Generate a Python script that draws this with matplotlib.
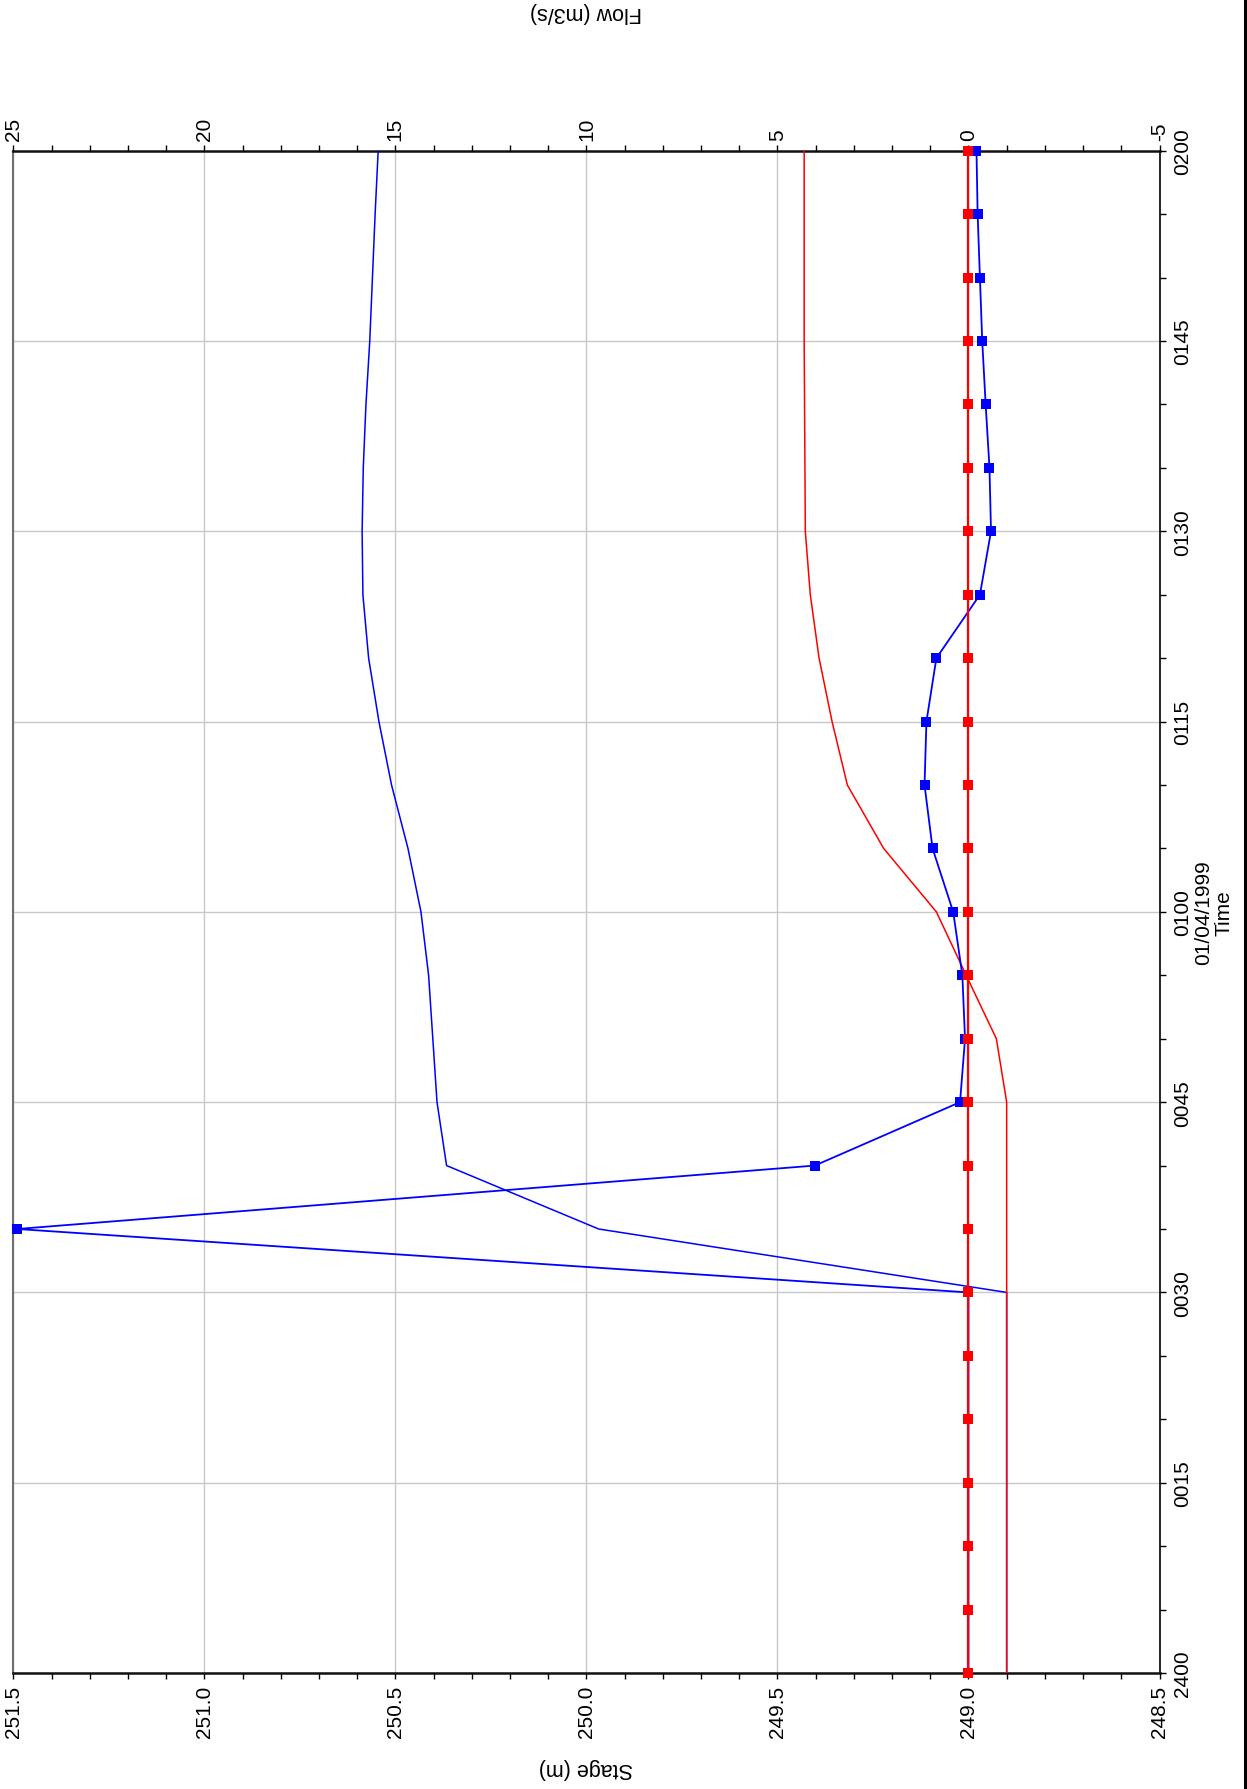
import matplotlib
matplotlib.use("Agg")
import matplotlib.pyplot as plt
from matplotlib.lines import Line2D
from matplotlib.ticker import MultipleLocator, FixedLocator, FixedFormatter

plt.rcParams['font.family'] = ['Liberation Sans', 'DejaVu Sans']
plt.rcParams['axes.unicode_minus'] = False

# ---------------- data ----------------
# time in minutes after 2400 on 01/04/1999, every 5 minutes
times = [0, 5, 10, 15, 20, 25, 30, 35, 40, 45, 50, 55, 60,
         65, 70, 75, 80, 85, 90, 95, 100, 105, 110, 115, 120]

time_tick_pos = [0, 15, 30, 45, 60, 75, 90, 105, 120]
time_tick_labels = ["2400", "0015", "0030", "0045", "0100", "0115", "0130", "0145", "0200"]

# Flow (m3/s) series (with markers)
flow_red = [0.0] * 25
flow_blue = [0.0, 0.0, 0.0, 0.0, 0.0, 0.0, 0.0, 24.9, 4.02, 0.22, 0.09, 0.16, 0.40,
             0.94, 1.15, 1.10, 0.84, -0.30, -0.59, -0.55, -0.45, -0.36, -0.30, -0.24, -0.21]

# Stage (m) series (plain lines)
stage_red = [248.90, 248.90, 248.90, 248.90, 248.90, 248.90, 248.90, 248.90, 248.90, 248.90,
             248.927, 249.006, 249.084, 249.222, 249.317, 249.357, 249.391, 249.414, 249.427,
             249.428, 249.429, 249.430, 249.430, 249.430, 249.430]
stage_blue = [248.90, 248.90, 248.90, 248.90, 248.90, 248.90, 248.90, 249.968, 250.366, 250.391,
              250.402, 250.413, 250.433, 250.467, 250.510, 250.543, 250.570, 250.585, 250.587,
              250.584, 250.577, 250.567, 250.560, 250.553, 250.545]

stage_lim = (251.5, 248.5)
flow_lim = (25, -5)

# ---------------- figure ----------------
W, H = 1247, 1790
fig = plt.figure(figsize=(W / 100, H / 100), dpi=100)
L, R, T, B = 13.3, 1159.5, 151.7, 1674.0
ax = fig.add_axes([L / W, 1 - B / H, (R - L) / W, (B - T) / H])

ax.set_xlim(*stage_lim)
ax.set_ylim(0, 120)

# stage axis at bottom
ax.xaxis.set_major_locator(MultipleLocator(0.5))
ax.xaxis.set_minor_locator(MultipleLocator(0.1))
ax.xaxis.set_major_formatter(matplotlib.ticker.FormatStrFormatter('%.1f'))
ax.tick_params(axis='x', which='both', direction='out', length=4.5, width=1,
               labelsize=15, labelrotation=90, pad=4, bottom=True, top=False)

# time axis on right
ax.yaxis.tick_right()
ax.yaxis.set_major_locator(FixedLocator(time_tick_pos))
ax.yaxis.set_major_formatter(FixedFormatter(time_tick_labels))
ax.yaxis.set_minor_locator(MultipleLocator(5))
ax.tick_params(axis='y', which='both', direction='out', length=4, width=1,
               labelsize=15, pad=6, left=False, right=True, labelleft=False, labelright=True)
for lab in ax.get_yticklabels():
    lab.set_rotation(90)
    lab.set_va('center')
    lab.set_ha('left')

ax.grid(True, which='major', color='#c8c8c8', linewidth=1)
ax.set_axisbelow(True)

for s in ['top', 'bottom']:
    ax.spines[s].set_linewidth(1.8)
    ax.spines[s].set_color('#111111')
ax.spines['right'].set_linewidth(1.2)
ax.spines['right'].set_color('black')
ax.spines['left'].set_linewidth(1.5)
ax.spines['left'].set_color('#707070')

# stage lines
ax.plot(stage_blue, times, color='#0000ff', linewidth=1.1, zorder=3)
ax.plot(stage_red, times, color='#ff0000', linewidth=1.1, zorder=4)

# flow axis on top
ax2 = ax.twiny()
ax2.set_xlim(*flow_lim)
ax2.set_ylim(0, 120)
ax2.xaxis.set_major_locator(MultipleLocator(5))
ax2.xaxis.set_minor_locator(MultipleLocator(1))
ax2.tick_params(axis='x', which='both', direction='out', length=4.5, width=1,
                labelsize=15, labelrotation=90, pad=3)
for s in ax2.spines.values():
    s.set_visible(False)
ax2.patch.set_visible(False)

ax2.plot(flow_blue, times, color='#0000ff', linewidth=1.3, marker='s', markersize=6.5,
         markeredgewidth=0, zorder=3, clip_on=False)
ax2.plot(flow_red, times, color='#ff0000', linewidth=1.6, marker='s', markersize=6.5,
         markeredgewidth=0, zorder=4, clip_on=False)

# axis titles
fig.text(586 / W, 1 - 1769 / H, "Stage (m)", rotation=180, ha='center', va='center', fontsize=15.5)
fig.text(586 / W, 1 - 13 / H, "Flow (m3/s)", rotation=180, ha='center', va='center', fontsize=15.5)
fig.text(1214 / W, 1 - 913 / H, "01/04/1999\nTime", rotation=90, ha='center', va='center',
         fontsize=15, multialignment='center', linespacing=1.1)

# right border line of the page
fig.add_artist(Line2D([1244.5 / W, 1244.5 / W], [0, 1], color='black', linewidth=2.2,
                      transform=fig.transFigure))

fig.savefig("out.png", dpi=100)
